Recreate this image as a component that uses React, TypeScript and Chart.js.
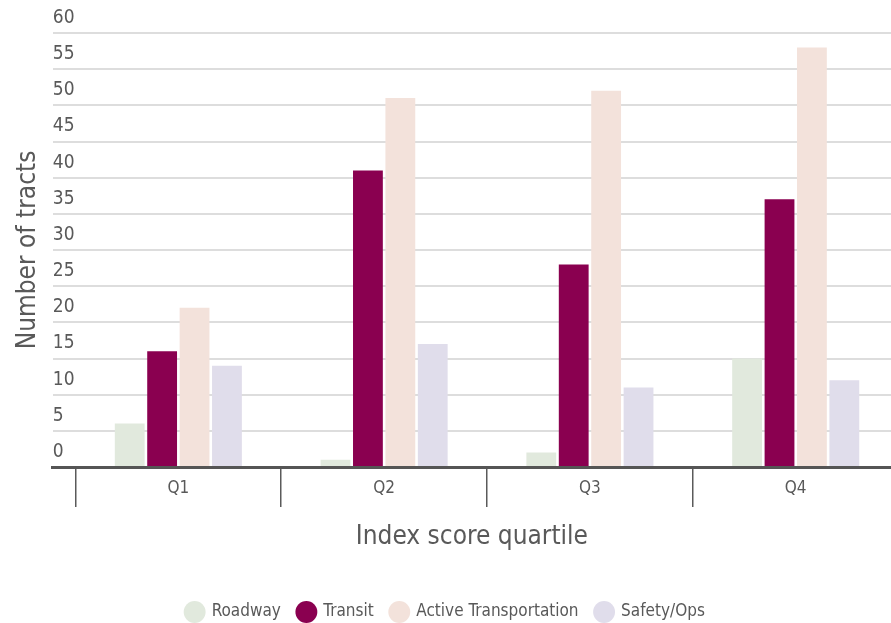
import React, { useEffect, useRef } from "react";
import { Chart, registerables } from "chart.js";

Chart.register(...registerables);

const categories = ["Q1", "Q2", "Q3", "Q4"];
const seriesNames = ["Roadway", "Transit", "Active Transportation", "Safety/Ops"];
const roadway = [6, 1, 2, 15];
const transit = [16, 41, 28, 37];
const activeTransportation = [22, 51, 52, 58];
const safetyOps = [14, 17, 11, 12];
const seriesColors = ["#e1e9dd", "#8a0050", "#f3e2db", "#e0ddeb"];
const yMin = 0;
const yMax = 60;
const yStep = 5;

const FONT = "'Liberation Sans Narrow', 'DejaVu Sans Condensed', 'Roboto Condensed', 'Liberation Sans', sans-serif";
const TEXT = "#595959";

export default function App() {
  const ref = useRef<HTMLCanvasElement | null>(null);

  useEffect(() => {
    const canvas = ref.current;
    if (!canvas) return;
    const series = [roadway, transit, activeTransportation, safetyOps];
    const chart = new Chart(canvas, {
      type: "bar",
      data: {
        datasets: series.map((vals, s) => ({
          label: seriesNames[s],
          data: vals.map((v, i) => ({ x: i, y: v })),
          backgroundColor: seriesColors[s],
          borderWidth: 0,
          categoryPercentage: 0.63,
          barPercentage: 0.92,
        })),
      },
      options: {
        responsive: false,
        animation: false,
        layout: { padding: { top: 33, bottom: 29.5, left: 0, right: 0 } },
        plugins: {
          tooltip: { enabled: false },
          legend: {
            position: "bottom",
            labels: {
              usePointStyle: true,
              pointStyle: "circle",
              boxHeight: 15.5,
              padding: 17,
              color: TEXT,
              font: { family: FONT, size: 17 },
            },
          },
        },
        scales: {
          x: {
            type: "linear",
            offset: false,
            min: -0.61,
            max: 3.463,
            afterBuildTicks: (axis: any) => {
              axis.ticks = categories.map((_, i) => ({ value: i }));
            },
            ticks: {
              callback: (v: any) => categories[v] ?? "",
              color: TEXT,
              font: { family: FONT, size: 17 },
              padding: -29,
              maxRotation: 0,
            },
            grid: {
              offset: true,
              drawOnChartArea: false,
              drawTicks: true,
              tickLength: 40,
              color: "#5a5a5a",
              lineWidth: 1.5,
            },
            border: { display: true, color: "#555", width: 3 },
            title: {
              display: true,
              text: "Index score quartile",
              color: TEXT,
              font: { family: FONT, size: 26 },
              padding: { top: 52, bottom: 33.9 },
            },
          },
          y: {
            min: yMin,
            max: yMax,
            ticks: {
              stepSize: yStep,
              mirror: true,
              padding: 0,
              labelOffset: -15,
              color: TEXT,
              font: { family: FONT, size: 19 },
            },
            grid: { color: "#dddddd", lineWidth: 2, drawTicks: false },
            border: { display: false },
            title: {
              display: true,
              text: "Number of tracts",
              color: TEXT,
              font: { family: FONT, size: 26 },
              padding: { top: 12.4, bottom: 9.2 },
            },
          },
        },
      },
    } as any);
    return () => chart.destroy();
  }, []);

  return (
    <div style={{ position: "absolute", left: 0, top: 0, width: 891, height: 623, overflow: "hidden", background: "#fff" }}>
      <canvas ref={ref} width={891} height={660} style={{ display: "block" }} />
    </div>
  );
}
